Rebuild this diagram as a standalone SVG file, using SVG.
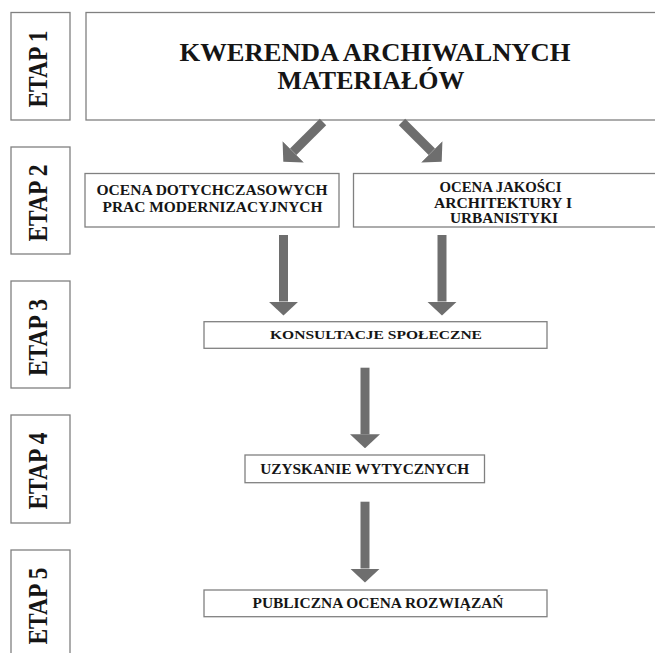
<svg xmlns="http://www.w3.org/2000/svg" width="655" height="653" viewBox="0 0 655 653">
  <style>
    .box { fill: #ffffff; stroke: #808080; stroke-width: 1.3; }
    .t { font-family: "Liberation Serif", "Times New Roman", serif; font-weight: bold; fill: #151515; text-anchor: middle; }
    .etap { font-size: 27px; }
    .conn { stroke: #6e6e6e; stroke-width: 9; fill: none; marker-end: url(#head); }
  </style>
  <defs>
    <marker id="head" markerUnits="userSpaceOnUse" markerWidth="14" markerHeight="30" viewBox="0 0 14 30" refX="0" refY="15" orient="auto">
      <path d="M0,0 L14,15 L0,30 Z" fill="#6e6e6e"/>
    </marker>
  </defs>
  <rect width="655" height="653" fill="#ffffff"/>

  <g id="etap1">
    <rect class="box" x="11" y="12.5" width="59" height="107.5"/>
    <text class="t etap" transform="translate(47.3,69) rotate(-90)" textLength="77" lengthAdjust="spacingAndGlyphs">ETAP 1</text>
  </g>
  <g id="etap2">
    <rect class="box" x="11" y="147" width="59" height="107"/>
    <text class="t etap" transform="translate(47.3,203) rotate(-90)" textLength="77" lengthAdjust="spacingAndGlyphs">ETAP 2</text>
  </g>
  <g id="etap3">
    <rect class="box" x="11" y="281" width="59" height="107"/>
    <text class="t etap" transform="translate(47.3,337.5) rotate(-90)" textLength="77" lengthAdjust="spacingAndGlyphs">ETAP 3</text>
  </g>
  <g id="etap4">
    <rect class="box" x="11" y="415" width="59" height="108"/>
    <text class="t etap" transform="translate(47.3,471) rotate(-90)" textLength="77" lengthAdjust="spacingAndGlyphs">ETAP 4</text>
  </g>
  <g id="etap5">
    <rect class="box" x="11" y="550" width="59" height="110"/>
    <text class="t etap" transform="translate(47.3,606) rotate(-90)" textLength="77" lengthAdjust="spacingAndGlyphs">ETAP 5</text>
  </g>

  <g id="kwerenda">
    <rect class="box" x="86" y="12.5" width="580" height="107.5"/>
    <text class="t" x="375" y="61" font-size="26" textLength="391" lengthAdjust="spacingAndGlyphs">KWERENDA ARCHIWALNYCH</text>
    <text class="t" x="371" y="89.3" font-size="26" textLength="187" lengthAdjust="spacingAndGlyphs">MATERIAŁÓW</text>
  </g>

  <g id="ocena-prac">
    <rect class="box" x="85" y="173.5" width="254" height="53.5"/>
    <text class="t" x="212" y="195" font-size="14" textLength="231" lengthAdjust="spacingAndGlyphs">OCENA DOTYCHCZASOWYCH</text>
    <text class="t" x="212.5" y="212" font-size="14" textLength="220" lengthAdjust="spacingAndGlyphs">PRAC MODERNIZACYJNYCH</text>
  </g>

  <g id="ocena-jakosci">
    <rect class="box" x="353.5" y="173.5" width="310" height="53.5"/>
    <text class="t" x="500.5" y="191.7" font-size="14.5" textLength="122" lengthAdjust="spacingAndGlyphs">OCENA JAKOŚCI</text>
    <text class="t" x="503" y="207.7" font-size="14.5" textLength="138" lengthAdjust="spacingAndGlyphs">ARCHITEKTURY I</text>
    <text class="t" x="504" y="223.3" font-size="14.5" textLength="108" lengthAdjust="spacingAndGlyphs">URBANISTYKI</text>
  </g>

  <g id="konsultacje">
    <rect class="box" x="204" y="321.7" width="343" height="26.6"/>
    <text class="t" x="376" y="338.5" font-size="13.5" textLength="212" lengthAdjust="spacingAndGlyphs">KONSULTACJE SPOŁECZNE</text>
  </g>

  <g id="uzyskanie">
    <rect class="box" x="245" y="455" width="239.5" height="27.7"/>
    <text class="t" x="364.7" y="474" font-size="14.5" textLength="209" lengthAdjust="spacingAndGlyphs">UZYSKANIE WYTYCZNYCH</text>
  </g>

  <g id="publiczna">
    <rect class="box" x="204" y="590" width="343" height="26.7"/>
    <text class="t" x="378" y="608" font-size="14" textLength="251" lengthAdjust="spacingAndGlyphs">PUBLICZNA OCENA ROZWIĄZAŃ</text>
  </g>

  <g id="connectors">
    <line class="conn" x1="323" y1="122" x2="293.2" y2="151.8"/>
    <line class="conn" x1="402" y1="122" x2="431.8" y2="151.8"/>
    <line class="conn" x1="283.5" y1="235" x2="283.5" y2="301.5"/>
    <line class="conn" x1="442" y1="235" x2="442" y2="301.5"/>
    <line class="conn" x1="365" y1="367.7" x2="365" y2="434.3"/>
    <line class="conn" x1="365" y1="501.7" x2="365" y2="568.5"/>
  </g>
</svg>
